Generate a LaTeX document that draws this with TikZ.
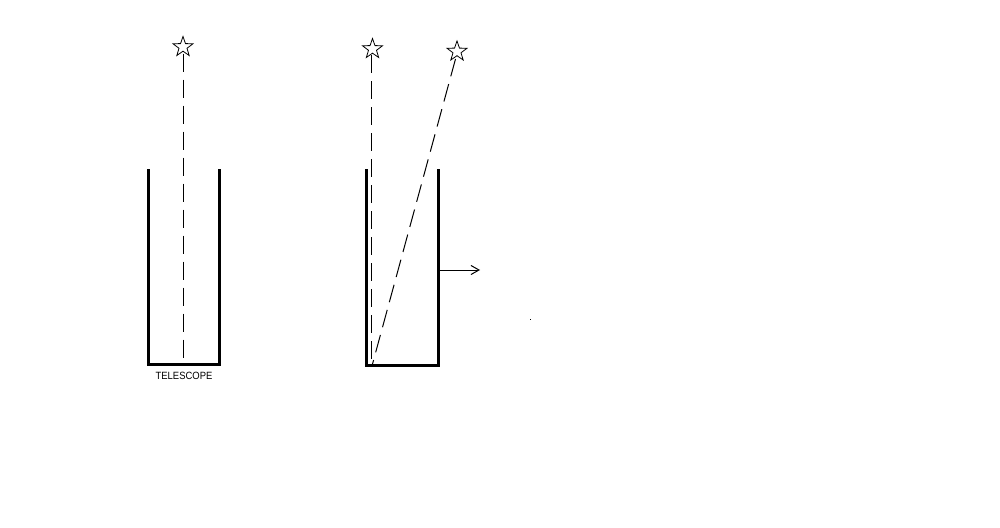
\documentclass[tikz,border=0pt]{standalone}
\usepackage{fontspec}
\setmainfont{Liberation Sans}
\newfontfamily\labelfont[FakeStretch=0.9]{Liberation Sans}
\usetikzlibrary{shapes.geometric,arrows.meta}
\begin{document}
\begin{tikzpicture}[x=1pt,y=-1pt,
  starnode/.style={star,star points=5,star point ratio=2.5,minimum size=21pt,inner sep=0pt,draw,line width=0.8pt},
  ray/.style={line width=1pt,dash pattern=on 18pt off 8pt},
  tube/.style={line width=3pt,line join=miter},
  push/.style={line width=1pt,-{Straight Barb[length=8pt,width=9pt,line width=1pt]}}]
\useasboundingbox[fill=white] (0,0) rectangle (1000,527);
% left telescope
\draw[tube] (148.5,169) coordinate (lt1) -- (148.5,364.5) coordinate (lb1) -- (219.5,364.5) coordinate (rb1) -- (219.5,169) coordinate (rt1);
\node[starnode] (s1) at (183,47) {};
\coordinate (f1) at (183,363);
\draw[ray] (s1.south) ++(0,2) -- (f1);
\node[font=\labelfont\fontsize{10.5}{12}\selectfont, inner sep=0pt] (lab) at (184,376) {TELESCOPE};
% right telescope
\draw[tube] (366.5,169) coordinate (lt2) -- (366.5,365.5) coordinate (lb2) -- (438,365.5) coordinate (rb2) -- (438,169) coordinate (rt2);
\node[starnode] (s2) at (372.5,49) {};
\node[starnode] (s3) at (457,51.5) {};
\coordinate (f2) at (371,364);
\coordinate (f3) at (372.5,364);
\coordinate (t3) at (455.5,59);
\draw[ray] (s2.south) ++(-1.5,1.5) -- (f2);
\draw[ray] (t3) -- (f3);
% motion arrow
\coordinate (a0) at (439.5,270);
\coordinate (a1) at (480,270);
\draw[push] (a0) -- (a1);
% stray dot
\fill (529.5,318.5) rectangle (530.5,319.5);
\end{tikzpicture}
\end{document}
